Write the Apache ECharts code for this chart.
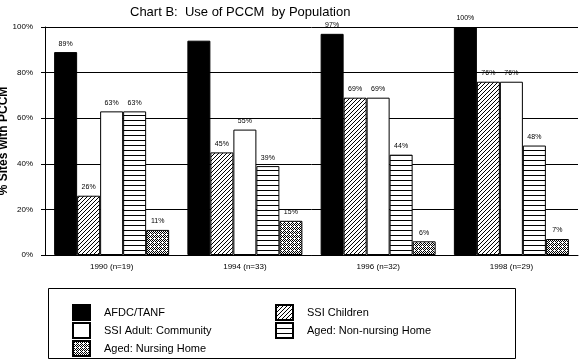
<!DOCTYPE html>
<html>
<head>
    <meta charset="utf-8">
    <title>Chart B</title>
    <script type="text/javascript" src="https://cdn.jsdelivr.net/npm/echarts@6/dist/echarts.min.js"></script>
</head>
<style type="text/css">
    html, body { margin: 0; padding: 0; background: #fff; }
    #main { width: 581px; height: 360px; }
</style>
<body>
    <div id="main"></div>
    <script type="text/javascript">
        var years = ['1990 (n=19)', '1994 (n=33)', '1996 (n=32)', '1998 (n=29)'];
        var afdc = [89, 94, 97, 100];
        var ssiChildren = [26, 45, 69, 76];
        var ssiAdult = [63, 55, 69, 76];
        var agedNonNursing = [63, 39, 44, 48];
        var agedNursing = [11, 15, 6, 7];
        var yTicks = [0, 20, 40, 60, 80, 100];

        // small canvas tiles for the fills
        function tile(w, h, draw) {
            var c = document.createElement('canvas');
            c.width = w; c.height = h;
            var ctx = c.getContext('2d');
            ctx.fillStyle = '#fff';
            ctx.fillRect(0, 0, w, h);
            ctx.fillStyle = '#000';
            draw(ctx);
            return { image: c, repeat: 'repeat' };
        }
        var diag = tile(4, 4, function(ctx) {
            for (var i = 0; i < 4; i++) ctx.fillRect(3 - i, i, 1, 1);
        });
        var horiz = tile(1, 5, function(ctx) {
            ctx.fillRect(0, 0, 1, 1);
        });
        var dots = tile(4, 4, function(ctx) {
            ctx.fillRect(0, 0, 1, 1); ctx.fillRect(2, 0, 1, 1);
            ctx.fillRect(1, 1, 1, 1); ctx.fillRect(3, 1, 1, 1);
            ctx.fillRect(0, 2, 1, 1); ctx.fillRect(3, 3, 1, 1);
            ctx.fillRect(1, 3, 1, 1);
        });

        var chart = echarts.init(document.getElementById('main'));

        function bar(name, data, fill) {
            return {
                name: name,
                type: 'bar',
                barWidth: 23,
                barGap: '0%',
                animation: false,
                itemStyle: { color: fill, borderColor: '#000', borderWidth: 1 },
                label: {
                    show: true, position: 'top', distance: 5,
                    formatter: '{c}%', fontSize: 7, fontFamily: 'Arial', color: '#000'
                },
                data: data
            };
        }

        var afdcData = afdc.map(function(v, i) {
            // no value printed over the 1994 bar in the original
            return i === 1 ? { value: v, label: { show: false } } : v;
        });

        function leg(name, left, top) {
            return {
                left: left, top: top,
                itemWidth: 17, itemHeight: 15,
                icon: 'rect',
                textStyle: { fontSize: 11, fontFamily: 'Arial', color: '#000', padding: [0, 0, 0, 9] },
                data: [name]
            };
        }

        var option = {
            animation: false,
            backgroundColor: '#fff',
            title: {
                text: 'Chart B:  Use of PCCM  by Population',
                left: 125, top: 1,
                textStyle: { fontSize: 13, fontWeight: 'normal', fontFamily: 'Arial', color: '#000' }
            },
            grid: { left: 45, right: 3, top: 27, bottom: 105, outerBoundsMode: 'none', containLabel: false },
            xAxis: {
                type: 'category',
                data: years,
                axisLine: { lineStyle: { color: '#000', width: 1 } },
                axisTick: { alignWithLabel: true, length: 4, lineStyle: { color: '#000' } },
                axisLabel: { fontSize: 8, fontFamily: 'Arial', color: '#000', margin: 8 }
            },
            yAxis: {
                type: 'value',
                min: yTicks[0], max: yTicks[yTicks.length - 1], interval: 20,
                name: '% Sites with PCCM',
                nameLocation: 'middle',
                nameGap: 35,
                nameMoveOverlap: false,
                nameTextStyle: { fontSize: 12, fontWeight: 'bold', fontFamily: 'Arial', color: '#000' },
                axisLine: { show: true, lineStyle: { color: '#000' } },
                axisTick: { show: true, length: 4, lineStyle: { color: '#000' } },
                axisLabel: { formatter: '{value}%', fontSize: 8, fontFamily: 'Arial', color: '#000', margin: 12 },
                splitLine: { lineStyle: { color: '#000', width: 1 } }
            },
            legend: [
                leg('AFDC/TANF', 67, 299),
                leg('SSI Children', 270, 299),
                leg('SSI Adult: Community', 67, 317),
                leg('Aged: Non-nursing Home', 270, 317),
                leg('Aged: Nursing Home', 67, 335)
            ],
            graphic: [{
                type: 'rect',
                shape: { x: 48.5, y: 288.5, width: 467, height: 70 },
                style: { fill: 'none', stroke: '#000', lineWidth: 1 },
                z: -1
            }],
            series: [
                bar('AFDC/TANF', afdcData, '#000'),
                bar('SSI Children', ssiChildren, diag),
                bar('SSI Adult: Community', ssiAdult, '#fff'),
                bar('Aged: Non-nursing Home', agedNonNursing, horiz),
                bar('Aged: Nursing Home', agedNursing, dots)
            ]
        };
        chart.setOption(option);
    </script>
</body>
</html>
